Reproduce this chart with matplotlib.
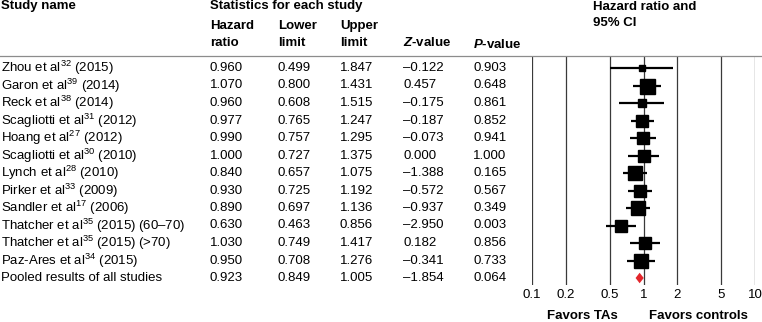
import matplotlib
matplotlib.use("Agg")
import matplotlib.pyplot as plt
import numpy as np

plt.rcParams['font.family'] = ['Liberation Sans', 'DejaVu Sans']
plt.rcParams['mathtext.fontset'] = 'custom'
plt.rcParams['mathtext.rm'] = 'Liberation Sans'
plt.rcParams['mathtext.it'] = 'Liberation Sans:italic'
plt.rcParams['mathtext.bf'] = 'Liberation Sans:bold'
plt.rcParams['mathtext.bfit'] = 'Liberation Sans:italic:bold'

# ---------------- data ----------------
studies = [
    "Zhou et al$^{32}$ (2015)",
    "Garon et al$^{39}$ (2014)",
    "Reck et al$^{38}$ (2014)",
    "Scagliotti et al$^{31}$ (2012)",
    "Hoang et al$^{27}$ (2012)",
    "Scagliotti et al$^{30}$ (2010)",
    "Lynch et al$^{28}$ (2010)",
    "Pirker et al$^{33}$ (2009)",
    "Sandler et al$^{17}$ (2006)",
    "Thatcher et al$^{35}$ (2015) (60\u201370)",
    "Thatcher et al$^{35}$ (2015) (>70)",
    "Paz-Ares et al$^{34}$ (2015)",
]
pooled_label = "Pooled results of all studies"
hr = [0.960, 1.070, 0.960, 0.977, 0.990, 1.000, 0.840, 0.930, 0.890, 0.630, 1.030, 0.950]
lower = [0.499, 0.800, 0.608, 0.765, 0.757, 0.727, 0.657, 0.725, 0.697, 0.463, 0.749, 0.708]
upper = [1.847, 1.431, 1.515, 1.247, 1.295, 1.375, 1.075, 1.192, 1.136, 0.856, 1.417, 1.276]
zval = [-0.122, 0.457, -0.175, -0.187, -0.073, 0.000, -1.388, -0.572, -0.937, -2.950, 0.182, -0.341]
pval = [0.903, 0.648, 0.861, 0.852, 0.941, 1.000, 0.165, 0.567, 0.349, 0.003, 0.856, 0.733]
weights = [1.6, 10.0, 2.8, 7.5, 7.5, 5.4, 8.7, 7.5, 8.7, 7.5, 7.5, 8.7]  # relative (from box sizes)
pooled_hr, pooled_lo, pooled_hi, pooled_z, pooled_p = 0.923, 0.849, 1.005, -1.854, 0.064
xticks = [0.1, 0.2, 0.5, 1, 2, 5, 10]
xticklabels = ["0.1", "0.2", "0.5", "1", "2", "5", "10"]

# ---------------- layout ----------------
W, H = 762, 322
fig = plt.figure(figsize=(W / 100, H / 100), dpi=100)

def P(x, y):
    return (x / W, 1 - y / H)

FS = 9.5
row0, drow = 68.0, 17.5
nrows = len(studies) + 1

def fmt(v):
    s = f"{abs(v):.3f}"
    return ("\u2013" + s) if v < 0 else s

# forest axes
fx0, fx1, fy0, fy1 = 532, 755, 56, 285
ax = fig.add_axes([fx0 / W, 1 - fy1 / H, (fx1 - fx0) / W, (fy1 - fy0) / H])
ax.set_xscale('log')
ax.set_xlim(0.1, 10)
ax.set_ylim((fy1 - row0) / drow, (fy0 - row0) / drow)
for s in ax.spines.values():
    s.set_visible(False)
ax.set_yticks([])
ax.set_xticks(xticks)
ax.set_xticklabels(xticklabels, fontsize=FS)
ax.minorticks_off()
ax.tick_params(axis='x', length=0, pad=3)
for t in xticks:
    ax.axvline(t, color='#3a3a3a', lw=0.9, zorder=1)

wmax = max(weights)
for i in range(len(studies)):
    ax.plot([lower[i], upper[i]], [i, i], color='black', lw=1.6, zorder=2, solid_capstyle='butt')
    side = 15 * np.sqrt(weights[i] / wmax)  # px
    ax.plot([hr[i]], [i], marker='s', color='black', markersize=side * 0.72, zorder=3, linestyle='none')

yp = len(studies)
dh = 0.3
ax.fill([pooled_lo, pooled_hr, pooled_hi, pooled_hr], [yp, yp - dh, yp, yp + dh],
        color='#e3262b', lw=0, zorder=3)

# horizontal rule
fig.add_artist(plt.Line2D([0, 1], [1 - 56 / H, 1 - 56 / H], color='#8c8c8c', lw=0.9))

# headers
fig.text(*P(1, 6), "Study name", fontsize=FS, fontweight='bold', va='center', ha='left')
fig.text(*P(210, 6), "Statistics for each study", fontsize=FS, fontweight='bold', va='center', ha='left')
fig.text(*P(593, 7), "Hazard ratio and", fontsize=FS, fontweight='bold', va='center', ha='left')
fig.text(*P(593, 23), "95% CI", fontsize=FS, fontweight='bold', va='center', ha='left')
cols = [210, 278, 340, 403, 473]
for x, (a, b) in zip(cols[:3], [("Hazard", "ratio"), ("Lower", "limit"), ("Upper", "limit")]):
    fig.text(*P(x, 26), a, fontsize=FS, fontweight='bold', va='center', ha='left')
    fig.text(*P(x, 43), b, fontsize=FS, fontweight='bold', va='center', ha='left')
fig.text(*P(cols[3], 42), r"$\mathbfit{Z}$-value", fontsize=FS, fontweight='bold', va='center', ha='left')
fig.text(*P(cols[4], 44), r"$\mathbfit{P}$-value", fontsize=FS, fontweight='bold', va='center', ha='left')

# rows
names = studies + [pooled_label]
hr_all = hr + [pooled_hr]
lo_all = lower + [pooled_lo]
hi_all = upper + [pooled_hi]
z_all = zval + [pooled_z]
p_all = pval + [pooled_p]
for i in range(nrows):
    y = row0 + drow * i
    fig.text(*P(1, y), names[i], fontsize=FS, va='center', ha='left')
    for x, v in zip(cols, [hr_all[i], lo_all[i], hi_all[i], z_all[i], p_all[i]]):
        fig.text(*P(x, y), fmt(v), fontsize=FS, va='center', ha='left')

fig.text(*P(582, 316), "Favors TAs", fontsize=FS, fontweight='bold', va='center', ha='center')
fig.text(*P(698, 316), "Favors controls", fontsize=FS, fontweight='bold', va='center', ha='center')

fig.savefig("out.png", dpi=100)
